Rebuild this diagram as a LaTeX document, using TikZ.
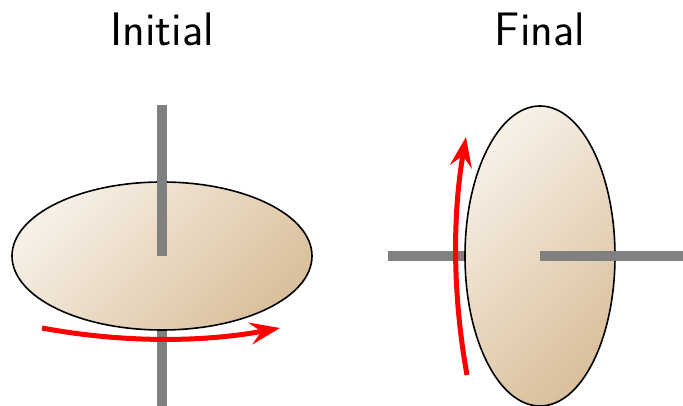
\documentclass[tikz,border=0pt]{standalone}
\usepackage{fontspec}
\usetikzlibrary{arrows.meta}
\definecolor{lightbeige}{HTML}{F7F0E7}
\definecolor{darkbeige}{HTML}{DAC09C}
\definecolor{axisgray}{HTML}{808080}
\definecolor{arrowred}{HTML}{FF0000}
\tikzset{
  axisline/.style={draw=axisgray, line width=10pt, line cap=butt},
  body/.style={draw=black, line width=1.6pt, shading=axis, top color=lightbeige, bottom color=darkbeige, shading angle=45},
  spin/.style={draw=arrowred, line width=5pt, -{Stealth[length=30pt,width=22pt,inset=11pt]}},
  title/.style={font=\sffamily\fontsize{47}{52}\selectfont, anchor=base, inner sep=0pt}
}
\begin{document}
\begin{tikzpicture}[x=1pt,y=1pt]
\useasboundingbox (0,0) rectangle (683,406);
% titles
\node[title] (tInit) at (162,360) {Initial};
\node[title] (tFinal) at (540,360) {Final};
% left: initial
\draw[axisline] (162,0) -- (162,301);
\path[body] (162,150) ellipse [x radius=150, y radius=74];
\draw[axisline] (162,150) -- (162,301);
\coordinate (la) at (42,78);
\coordinate (lb) at (280,78);
\draw[spin] (la) .. controls (121.3,63.3) and (200.7,63.3) .. (lb);
% right: final
\draw[axisline] (388,150) -- (683,150);
\path[body] (540,150) ellipse [x radius=75, y radius=150];
\draw[axisline] (540,150) -- (683,150);
\coordinate (ra) at (467,31);
\coordinate (rb) at (466,269);
\draw[spin] (ra) .. controls (452.7,110.3) and (452.3,189.7) .. (rb);
\end{tikzpicture}
\end{document}
